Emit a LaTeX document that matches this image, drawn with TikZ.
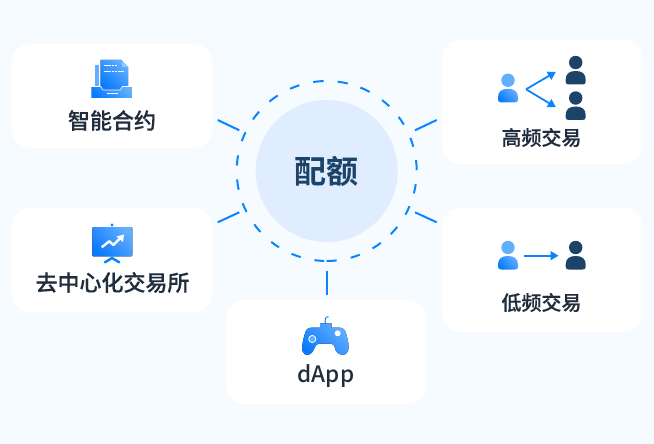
\documentclass[tikz,border=0pt]{standalone}
\usepackage{fontspec}
\setmainfont{Noto Sans CJK SC}[BoldFont={Noto Sans CJK SC Medium},BoldFeatures={FakeBold=0.35}]
\newfontfamily\heavyfont{Noto Sans CJK SC Bold}
\newfontfamily\medfont{Noto Sans CJK SC Medium}
\usetikzlibrary{arrows.meta}
\definecolor{bgc}{HTML}{F6FBFF}
\definecolor{hub}{HTML}{E0EDFF}
\definecolor{acc}{HTML}{0A84FF}
\definecolor{ink}{HTML}{1F2D3D}
\definecolor{navy}{HTML}{1B4468}
\definecolor{lite}{HTML}{62AEFF}
\definecolor{deep}{HTML}{0A7BFF}
\tikzset{
 x=1pt,y=-1pt,
 card/.style={fill=white,rounded corners=18pt},
 label/.style={text=ink,font=\fontsize{22}{24}\selectfont\bfseries,inner sep=0pt,anchor=center},
 smalllabel/.style={label,font=\fontsize{20}{24}\selectfont\bfseries},
 spoke/.style={draw=acc,line width=2pt},
 dashseg/.style={draw=acc,line width=2pt},
 link/.style={draw=acc,line width=1.8pt,-{Triangle[length=8pt,width=9pt]},shorten >=-1pt},
 grad/.style={left color=lite,right color=deep,shading angle=315},
}
\newcommand{\person}[5]{% x,y of head centre, head colour, body style
 \fill[#3] (#1,#2) circle (6.7);
 \path[#4] (#1-10,#2+17) .. controls (#1-10,#2+11) and (#1-6,#2+8.5) .. (#1,#2+8.5) .. controls (#1+6,#2+8.5) and (#1+10,#2+11) .. (#1+10,#2+17) -- (#1+10,#2+19) .. controls (#1+10,#2+21) and (#1+9,#2+22) .. (#1+7,#2+22) -- (#1-7,#2+22) .. controls (#1-9,#2+22) and (#1-10,#2+21) .. (#1-10,#2+19) -- cycle;
}
\begin{document}
\begin{tikzpicture}
\useasboundingbox (0,0) rectangle (654,444);
\fill[bgc] (0,0) rectangle (654,444);
\fill[card] (12,44) rectangle (212,148);
\fill[card] (12,208) rectangle (212,312);
\fill[card] (226,300) rectangle (426,404);
\fill[card] (442,40) rectangle (642,164);
\fill[card] (442,208) rectangle (642,332);
% hub
\node[circle,fill=hub,minimum size=142pt,inner sep=0pt,text=navy,font=\fontsize{32}{36}\selectfont\heavyfont] (hubn) at (326.7,171) {配额};
\foreach \a/\b in {98.6/92,83/76.5,68/61.5,52/46,37/31,21.6/15.7,7/0.6,-8.4/-14.4,-23/-29,-38.4/-44.6,-53/-59.4,-68.5/-74.5,-83.7/-90,-91.7/-97.8,-106.8/-113,-122/-128,-137.4/-143.6,-152.9/-159,-168/-174.6,176.5/170,160.6/154.5,145/138.7,129.5/123,114/107.7}
 \draw[dashseg] (326.7,171) ++({90*cos(\a)},{-90*sin(\a)}) arc[start angle=-\a,end angle=-\b,radius=90];
% spokes
\coordinate (s1a) at (217.7,120); \coordinate (s1b) at (239.3,130.3);
\coordinate (s2a) at (436.7,120); \coordinate (s2b) at (415,130.3);
\coordinate (s3a) at (217.7,222.3); \coordinate (s3b) at (239.3,212.3);
\coordinate (s4a) at (436.7,222.3); \coordinate (s4b) at (415,212.3);
\coordinate (s5a) at (327,271); \coordinate (s5b) at (327,295);
\foreach \n in {1,...,5} \draw[spoke] (s\n a) -- (s\n b);
% labels
\node[label] (l1) at (112,120.5) {智能合约};
\node[label] (l2) at (112.5,282.5) {去中心化交易所};
\node[label,font=\fontsize{22.5}{24}\selectfont\medfont] (l3) at (326,376) {dApp};
\node[smalllabel] (l4) at (541.5,137.5) {高频交易};
\node[smalllabel] (l5) at (541.5,302.5) {低频交易};
% contract icon
\fill[lite] (95.3,65) rectangle (99.3,87);
\fill[grad] (100.7,60) -- (121.5,60) -- (128,67) -- (128,90) -- (100.7,90) -- cycle;
\fill[white] (121.5,59.5) -- (129,67.5) -- (129,59.5) -- cycle;
\fill[lite!70] (122,61) -- (122,67) -- (128,67) -- cycle;
\draw[white,line width=1pt,dash pattern=on 2.2pt off .6pt] (103.5,65.5) -- (117,65.5) (103.5,72) -- (124,72);
\fill[grad,draw=white,line width=.6pt] (91,86.5) -- (100.7,86.5) -- (103,90) -- (120,90) -- (122.5,86.5) -- (132.5,86.5) -- (132.5,98.5) -- (91,98.5) -- cycle;
\draw[white,line width=1.1pt] (107,93.7) -- (118,93.7);
% chart icon
\fill[acc] (112,225) circle (1.7);
\fill[grad,rounded corners=1pt] (92.3,227) rectangle (132.3,256.3);
\draw[white,line width=2.4pt,line join=round] (101.7,247.3) -- (109.3,241.2) -- (113.3,245) -- (121,237.5);
\fill[white] (116.5,236.5) -- (124,234.5) -- (123,242) -- cycle;
\draw[acc,line width=2.5pt,line cap=round] (105,262.3) -- (112,258) -- (119.3,262.3);
% gamepad icon
\draw[acc,line width=1pt] (325.7,324) .. controls (324.5,320) and (325,316.7) .. (328.5,316.7);
\fill[grad] (320,323.3) -- (331.7,323.3) -- (331.7,327.7) -- (340,327.7) .. controls (344,327.7) and (345.5,331) .. (346.5,335) .. controls (348,340) and (349.5,347) .. (348,351) .. controls (346,356.5) and (339,356.5) .. (335.5,350) .. controls (334.5,346) and (333.5,343.5) .. (331,343.5) -- (319,343.5) .. controls (316.5,343.5) and (315.5,346) .. (313.5,350) .. controls (310.5,356.5) and (304,356.5) .. (302.5,351) .. controls (301.5,347) and (303,340) .. (304.5,335) .. controls (305.5,331) and (307,327.7) .. (311,327.7) -- (320,327.7) -- cycle;
\fill[white] (337.7,333.3) circle (3);
\draw[white,line width=.8pt,fill=lite] (312.3,339) circle (3.6);
% persons
\person{508}{80.3}{lite}{grad}{}
\person{575.7}{62.5}{navy}{fill=navy}{}
\person{575.7}{98}{navy}{fill=navy}{}
\person{508}{247.5}{lite}{grad}{}
\person{575.7}{247.5}{navy}{fill=navy}{}
\coordinate (f1) at (526,89.3);
\coordinate (t1) at (555,72.3);
\coordinate (t2) at (555,106.7);
\draw[link] (f1) -- (t1);
\draw[link] (f1) -- (t2);
\coordinate (f2) at (524,255.7);
\coordinate (t3) at (557.5,255.7);
\draw[link] (f2) -- (t3);
\end{tikzpicture}
\end{document}
